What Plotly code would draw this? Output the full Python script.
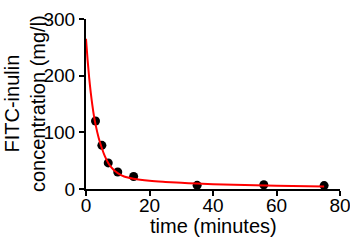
import plotly.graph_objects as go

time_min = [3, 5, 7, 10, 15, 35, 56, 75]
conc = [120, 77, 46, 30, 22, 6.5, 7.5, 6]

fit_t = [0, 0.5, 1, 1.5, 2, 2.5, 3, 4, 5, 6, 7, 8, 9, 10, 12, 15, 20, 25, 30, 35, 40, 50, 60, 75]
fit_c = [265, 228, 196, 170, 148, 129, 114, 90, 72, 57, 46, 38, 32, 28, 22, 18, 14.5, 12.5, 11, 9.5, 8.5, 7, 5.8, 4.6]

x_ticks = [0, 20, 40, 60, 80]
y_ticks = [0, 100, 200, 300]

fig = go.Figure()
fig.add_trace(go.Scatter(x=time_min, y=conc, mode="markers",
                         marker=dict(color="black", size=9), showlegend=False))
fig.add_trace(go.Scatter(x=fit_t, y=fit_c, mode="lines", line=dict(color="#ff0000", width=2, shape="spline"),
                         showlegend=False))

font = "Liberation Sans, Arial, sans-serif"
fig.update_layout(
    width=350, height=241,
    margin=dict(l=86, r=10, t=19, b=52),
    plot_bgcolor="white", paper_bgcolor="white",
    font=dict(family=font, color="black"),
    xaxis=dict(range=[0, 80], tickvals=x_ticks, showgrid=False, zeroline=False, automargin=False,
               showline=True, linecolor="black", linewidth=2, ticks="outside", ticklen=5,
               tickwidth=2, tickcolor="black", tickfont=dict(size=19), ticklabeloverflow="allow",
               ticklabelstandoff=-7),
    yaxis=dict(range=[0, 300], tickvals=y_ticks, showgrid=False, zeroline=False, automargin=False,
               showline=True, linecolor="black", linewidth=2, ticks="outside", ticklen=5,
               tickwidth=2, tickcolor="black", tickfont=dict(size=19), ticklabeloverflow="allow"),
    annotations=[
        dict(text="time (minutes)", xref="paper", yref="paper", x=0.5, y=0, xanchor="center",
             yanchor="middle", yshift=-37, showarrow=False, font=dict(size=20)),
        dict(text="FITC-inulin<br>concentration (mg/l)", xref="paper", yref="paper", x=0, y=0.5,
             xanchor="center", yanchor="middle", xshift=-61, textangle=-90, showarrow=False,
             font=dict(size=20)),
    ],
)
fig.write_html("out.html", config={"displayModeBar": False},
               post_script="document.body.style.margin='0';document.body.style.overflow='hidden';")
